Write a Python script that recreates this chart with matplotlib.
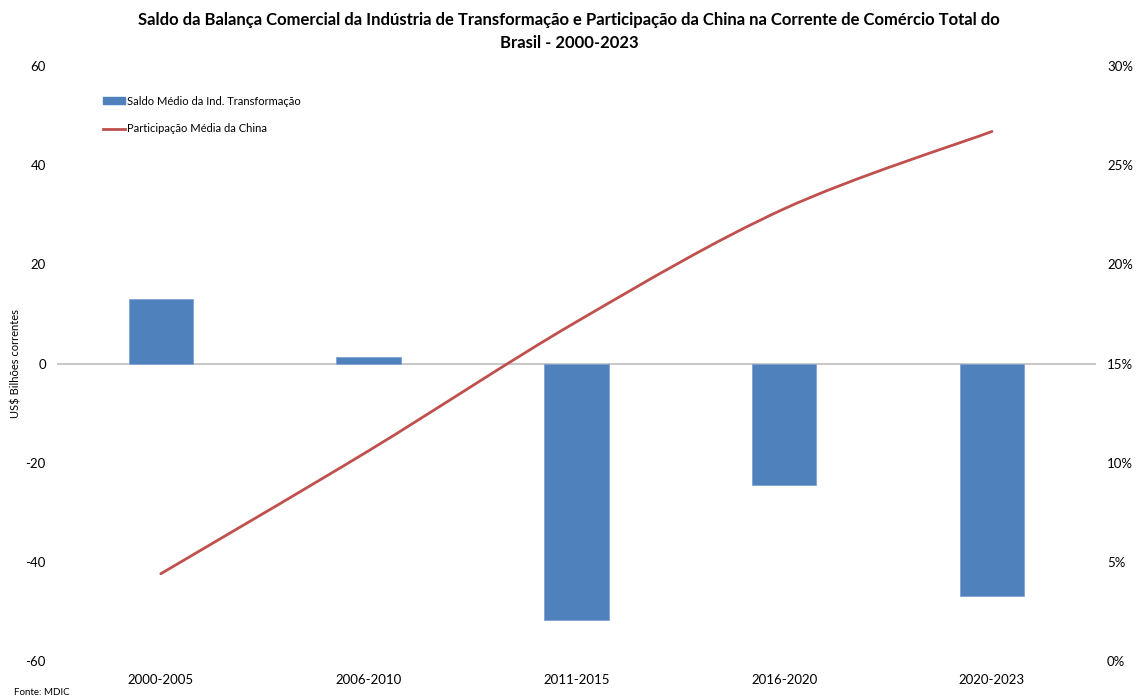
import matplotlib
matplotlib.use("Agg")
import matplotlib.pyplot as plt
from matplotlib.path import Path
from matplotlib.patches import PathPatch
from matplotlib.lines import Line2D
from matplotlib.ticker import FuncFormatter

plt.rcParams['font.family'] = ['Lato', 'DejaVu Sans']
plt.rcParams['axes.unicode_minus'] = False

periods = ["2000-2005", "2006-2010", "2011-2015", "2016-2020", "2020-2023"]
saldo_medio = [13.0, 1.3, -51.7, -24.5, -46.9]          # US$ bilhões
participacao_china = [0.044, 0.106, 0.171, 0.228, 0.267]  # share of total trade

bar_color = "#4F81BD"
line_color = "#C0504D"
text_color = "#000000"

fig = plt.figure(figsize=(11.38, 7.0), dpi=100)
ax = fig.add_axes([0.050, 0.0557, 0.913, 0.85])
ax2 = ax.twinx()

x = list(range(len(periods)))
ax.bar(x, saldo_medio, width=0.31, color=bar_color, edgecolor="#7FA3D3",
       linewidth=0.6, zorder=2, label="Saldo Médio da Ind. Transformação")
ax.axhline(0, color="#BFBFBF", linewidth=1.2, zorder=1)

ax.set_xlim(-0.5, len(periods) - 0.5)
ax.set_ylim(-60, 60)
ax.set_yticks(range(-60, 61, 20))
ax.set_xticks(x)
ax.set_xticklabels(periods)
ax.tick_params(axis="both", length=0, labelsize=9.5, colors=text_color)
ax.tick_params(axis="x", pad=9)
ax.tick_params(axis="y", pad=8)
for s in ax.spines.values():
    s.set_visible(False)
ax.set_ylabel("US$ Bilhões correntes", fontsize=8)
ax.yaxis.set_label_coords(-0.034, 0.5)

# smoothed line through the period averages (cubic Bezier segments)
pts = list(zip(x, participacao_china))
verts = [pts[0]]
codes = [Path.MOVETO]
n = len(pts)
for i in range(n - 1):
    p0 = pts[max(i - 1, 0)]
    p1 = pts[i]
    p2 = pts[i + 1]
    p3 = pts[min(i + 2, n - 1)]
    c1 = (p1[0] + (p2[0] - p0[0]) / 6, p1[1] + (p2[1] - p0[1]) / 6)
    c2 = (p2[0] - (p3[0] - p1[0]) / 6, p2[1] - (p3[1] - p1[1]) / 6)
    verts += [c1, c2, p2]
    codes += [Path.CURVE4] * 3
ax2.add_patch(PathPatch(Path(verts, codes), facecolor="none",
                        edgecolor=line_color, linewidth=2.0,
                        capstyle="round", zorder=3))
ax2.set_ylim(0, 0.30)
ax2.set_yticks([i * 0.05 for i in range(7)])
ax2.yaxis.set_major_formatter(FuncFormatter(lambda v, _: f"{v * 100:.0f}%"))
ax2.tick_params(axis="y", length=0, labelsize=9.5, colors=text_color, pad=8)
for s in ax2.spines.values():
    s.set_visible(False)

handles = [
    plt.Rectangle((0, 0), 1, 1, color=bar_color),
    Line2D([0], [0], color=line_color, linewidth=2.0),
]
labels = ["Saldo Médio da Ind. Transformação", "Participação Média da China"]
ax.legend(handles, labels, loc="upper left", bbox_to_anchor=(0.035, 0.967),
          frameon=False, fontsize=8, handlelength=2.0, handleheight=0.6,
          handletextpad=0.1, labelspacing=1.5)

fig.text(0.5, 0.983,
         "Saldo da Balança Comercial da Indústria de Transformação e Participação da China na Corrente de Comércio Total do\nBrasil - 2000-2023",
         ha="center", va="top", fontsize=12, fontweight="bold",
         linespacing=1.55, color=text_color)
fig.text(0.012, 0.004, "Fonte: MDIC", fontsize=7, ha="left", va="bottom")

fig.savefig("out.png", dpi=100, facecolor="white")
